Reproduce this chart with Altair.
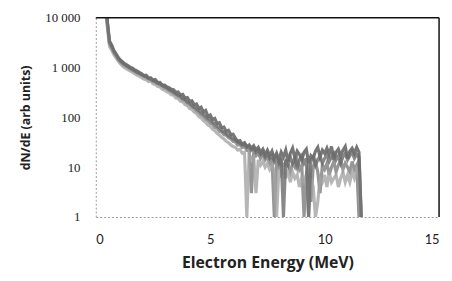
import altair as alt
import pandas as pd

energy = [round(0.4 + 0.1 * i, 1) for i in range(113)]  # 0.4 .. 11.6 MeV

s1 = [30000, 9000, 3400, 2800, 2150, 1850, 1550, 1380, 1270, 1170,
      1100, 1020, 975, 900, 860, 800,
      760, 690, 700, 630, 625, 560, 575, 500, 505, 450,
      445, 410, 395, 365, 360, 320, 325, 280, 290, 245,
      250, 210, 215, 178, 185, 152, 160, 128, 138, 105,
      112, 90, 95, 75, 78, 62, 64, 52, 55, 45, 46,
      38, 33, 34, 29, 31, 26, 28, 24, 27, 22,
      25, 20, 23, 18, 22, 17, 21, 15, 19, 14,
      20, 16, 22, 13, 19, 24, 15, 21, 18, 14,
      20, 23, 12, 17, 15, 21, 25, 16, 22, 19,
      24, 18, 26, 14, 20, 23, 17, 22, 26, 15,
      21, 24, 19, 25, 20, 1]

s2 = [25000, 7800, 3000, 2450, 1950, 1680, 1400, 1260, 1130, 1070,
      990, 935, 875, 825, 775, 735,
      690, 665, 615, 598, 552, 530, 495, 475, 440, 425,
      385, 375, 340, 330, 295, 285, 258, 250, 220, 212,
      186, 180, 158, 152, 132, 125, 110, 104, 92, 87,
      76, 73, 63, 61, 53, 51, 45, 44, 39, 37, 33,
      32, 28, 29, 25, 26, 22, 23, 3, 20, 17,
      19, 15, 18, 14, 16, 12, 15, 1, 13, 10,
      14, 9, 13, 11, 8, 12, 10, 14, 9, 11,
      1, 7, 12, 2, 10, 13, 8, 3, 11, 9,
      12, 7, 10, 13, 8, 11, 14, 9, 12, 10,
      8, 13, 9, 11, 1, 1]

s3 = [20000, 6800, 2650, 2200, 1780, 1520, 1300, 1160, 1040, 975,
      905, 855, 805, 752, 705, 672,
      630, 590, 570, 525, 540, 470, 460, 420, 410, 370,
      355, 325, 315, 285, 280, 245, 240, 210, 205, 180,
      172, 150, 145, 128, 120, 104, 98, 86, 80, 70,
      66, 58, 54, 48, 44, 40, 37, 33, 31, 28, 26,
      25, 22, 23, 19, 20, 1, 18, 15, 16, 3,
      14, 11, 13, 10, 12, 9, 11, 8, 1, 9,
      7, 10, 6, 9, 5, 8, 6, 7, 4, 6,
      5, 7, 1, 6, 4, 1, 2, 6, 5, 7,
      4, 8, 5, 6, 7, 4, 6, 8, 5, 7,
      5, 8, 6, 9, 7, 1]

s4 = [27000, 8400, 3200, 2600, 2050, 1760, 1470, 1320, 1200, 1110,
      1040, 970, 915, 855, 805, 765,
      725, 675, 655, 605, 590, 540, 530, 485, 475, 435,
      415, 390, 365, 340, 320, 295, 280, 265, 240, 228,
      204, 192, 175, 160, 150, 137, 126, 115, 106, 95,
      90, 80, 74, 66, 62, 55, 51, 47, 43, 40, 37,
      35, 32, 30, 28, 29, 25, 26, 22, 24, 20,
      22, 18, 20, 16, 19, 15, 17, 13, 16, 12,
      15, 1, 14, 11, 16, 12, 15, 10, 14, 17,
      12, 15, 1, 13, 16, 11, 14, 17, 12, 15,
      18, 13, 16, 19, 14, 17, 12, 16, 19, 14,
      17, 20, 15, 18, 16, 1]

series_names = ["run 1", "run 2", "run 3", "run 4"]
series_colors = ["#555555", "#7c7c7c", "#a4a4a4", "#6a6a6a"]

y_ticks = [1, 10, 100, 1000, 10000]
x_ticks = [0, 5, 10, 15]

rows = []
for name, vals in zip(series_names, [s1, s2, s3, s4]):
    for e, v in zip(energy, vals):
        rows.append({"series": name, "energy": e, "value": v})
df = pd.DataFrame(rows)

xscale = alt.Scale(domain=[0, 15], nice=False)
yscale = alt.Scale(type="log", domain=[1, 10000], nice=False)

lines = alt.Chart(df).mark_line(strokeWidth=3.2, opacity=0.8, clip=True).encode(
    x=alt.X("energy:Q", scale=xscale,
            axis=alt.Axis(values=x_ticks, title="Electron Energy (MeV)", grid=False,
                          ticks=False, domainColor="#9a9a9a", domainDash=[2, 2],
                          labelFont="Lato", labelFontSize=13, labelColor="#222",
                          labelPadding=17, titleFont="Open Sans", titleFontSize=16,
                          titleFontWeight="bold", titleColor="#222", titlePadding=8)),
    y=alt.Y("value:Q", scale=yscale,
            axis=alt.Axis(values=y_ticks, title="dN/dE (arb units)", grid=False,
                          ticks=False, domainColor="#9a9a9a", domainDash=[2, 2],
                          labelExpr="replace(format(datum.value, ','), ',', ' ')",
                          labelFont="Liberation Serif", labelFontSize=13, labelColor="#222",
                          labelPadding=16, titleFont="Open Sans", titleFontSize=12.5,
                          titleFontWeight="bold", titleColor="#222", titlePadding=12)),
    color=alt.Color("series:N", scale=alt.Scale(domain=series_names, range=series_colors),
                    legend=None),
    order=alt.Order("series:N", sort="descending"),
    detail="series:N",
)

top_rule = alt.Chart(pd.DataFrame({"v": [10000]})).mark_rule(color="#111", strokeWidth=1.5).encode(
    y=alt.Y("v:Q", scale=yscale)
)
right_rule = alt.Chart(pd.DataFrame({"e": [15]})).mark_rule(color="#111", strokeWidth=1.5).encode(
    x=alt.X("e:Q", scale=xscale)
)

chart = alt.layer(lines, top_rule, right_rule).properties(
    width=348, height=202,
    autosize=alt.AutoSizeParams(type="none"),
    padding={"left": 89, "top": 8, "right": 5, "bottom": 62},
).configure_view(stroke=None)

chart.save("out.html", embed_options={"renderer": "svg", "actions": False})
